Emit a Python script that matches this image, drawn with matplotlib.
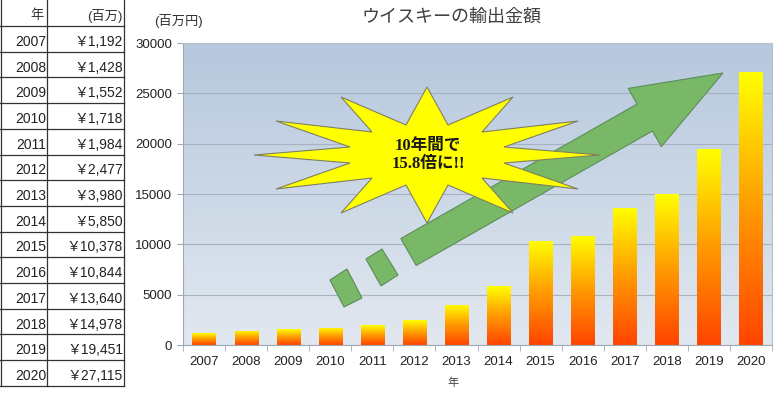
import numpy as np
import matplotlib
matplotlib.use('Agg')
import matplotlib.pyplot as plt
from matplotlib.colors import LinearSegmentedColormap, to_rgb
from matplotlib.patches import Polygon

plt.rcParams['font.family'] = ['Liberation Sans', 'Noto Sans CJK JP']

years = [2007, 2008, 2009, 2010, 2011, 2012, 2013, 2014, 2015, 2016, 2017, 2018, 2019, 2020]
export_values = [1192, 1428, 1552, 1718, 1984, 2477, 3980, 5850, 10378, 10844, 13640, 14978, 19451, 27115]
year_labels = [str(y) for y in years]

title = 'ウイスキーの輸出金額'
y_unit = '(百万円)'
x_label = '年'
table_header = ['年', '(百万)']
callout = '10年間で\n15.8倍に!!'

W, H = 780, 398
fig = plt.figure(figsize=(W / 100, H / 100), dpi=100)

# main chart
ax = fig.add_axes([183 / W, 1 - 345 / H, (772 - 183) / W, (345 - 43) / H])
ax.set_xlim(-0.5, len(years) - 0.5)
ax.set_ylim(0, 30000)

# background gradient
top_c = np.array(to_rgb('#b6c8dd'))
bot_c = np.array(to_rgb('#e2e8f0'))
t = np.linspace(0, 1, 256)[:, None]
bg = (bot_c * (1 - t) + top_c * t)[:, None, :]
ax.imshow(bg, extent=[-0.5, len(years) - 0.5, 0, 30000], origin='lower',
          aspect='auto', zorder=0)

ax.set_yticks(np.arange(0, 30001, 5000))
ax.yaxis.grid(True, color='#a7b2c0', lw=0.8, zorder=1)
ax.set_axisbelow(True)

bar_cmap = LinearSegmentedColormap.from_list('bar', ['#ff4400', '#ff9a00', '#ffff00'])
bars = ax.bar(range(len(years)), export_values, width=0.55, color='none', zorder=2)
grad = np.linspace(0, 1, 256)[:, None]
for b in bars:
    x0, y0 = b.get_x(), b.get_y()
    im = ax.imshow(grad, cmap=bar_cmap, origin='lower', aspect='auto',
                   extent=[x0, x0 + b.get_width(), y0, y0 + b.get_height()], zorder=2)
    im.set_clip_path(b)
ax.set_xlim(-0.5, len(years) - 0.5)
ax.set_ylim(0, 30000)

ax.set_xticks(range(len(years)))
ax.set_xticklabels(year_labels)
ax.set_xticks(np.arange(-0.5, len(years), 1), minor=True)
ax.tick_params(axis='x', which='major', length=0, pad=8, labelsize=9.5, colors='#222222')
ax.tick_params(axis='x', which='minor', length=4, color='#a0a8b4')
ax.tick_params(axis='y', length=4, color='#a0a8b4', labelsize=9.5, labelcolor='#222222', pad=4)
for s in ax.spines.values():
    s.set_color('#b8c0cc')
ax.spines['left'].set_color('#a0a8b4')
ax.spines['bottom'].set_color('#a0a8b4')

# overlay in pixel coordinates for table, labels and decorations
ov = fig.add_axes([0, 0, 1, 1], zorder=5)
ov.set_xlim(0, W)
ov.set_ylim(H, 0)
ov.axis('off')
ov.patch.set_alpha(0)

ov.text(452, 17, title, ha='center', va='center', fontsize=13, color='#404040')
ov.text(178, 21, y_unit, ha='center', va='center', fontsize=9.5, color='#333333')
ov.text(453, 383, x_label, ha='center', va='center', fontsize=8, color='#404040')

# table
row_h = 25.7
top = 26
for i in range(len(years) + 1):
    ov.plot([0, 124], [top + i * row_h] * 2, color='#333333', lw=0.9)
for xv in [0.5, 47, 124]:
    ov.plot([xv, xv], [0, top + len(years) * row_h], color='#333333', lw=0.9)
ov.text(44, 16, table_header[0], ha='right', va='center', fontsize=9.5, color='#333333')
ov.text(123, 16, table_header[1], ha='right', va='center', fontsize=9.5, color='#333333')
for i, (y, v) in enumerate(zip(years, export_values)):
    yc = top + i * row_h + row_h / 2 + 3
    ov.text(46, yc, str(y), ha='right', va='center', fontsize=10, color='#222222')
    ov.text(123, yc, '￥' + f'{v:,}', ha='right', va='center', fontsize=10, color='#222222')

# green arrow
S = np.array([408.5, 252.0])
T = np.array([723.0, 73.0])
u = (T - S) / np.linalg.norm(T - S)
n = np.array([-u[1], u[0]])
hw, hh, hl = 15.5, 33.5, 90
B = T - u * hl
arrow_pts = [S + n * hw, B + n * hw, B + n * hh, T, B - n * hh, B - n * hw, S - n * hw]
arrow_kw = dict(facecolor='#78b866', edgecolor='#5c8c5a', lw=0.8)
ov.add_patch(Polygon(arrow_pts, **arrow_kw))
ov.add_patch(Polygon([(330, 280), (347, 269), (362, 298), (344, 307)], **arrow_kw))
ov.add_patch(Polygon([(366, 259), (382, 249), (398, 275), (381, 286)], **arrow_kw))

# starburst
c = np.array([427.0, 155.0])
outer = [(0, -68), (86, -58), (151, -34), (173, 0), (151, 34), (86, 58),
         (0, 68), (-86, 58), (-151, 34), (-173, 0), (-151, -34), (-86, -58)]
inner = [(21, -30), (55, -23), (77, -8), (77, 8), (55, 23), (21, 30),
         (-21, 30), (-55, 23), (-77, 8), (-77, -8), (-55, -23), (-21, -30)]
star = []
for o, q in zip(outer, inner):
    star.append(c + o)
    star.append(c + q)
ov.add_patch(Polygon(star, facecolor='#ffff00', edgecolor='#7f8060', lw=0.8))
ov.text(428, 155, callout, ha='center', va='center', fontsize=12, fontweight='bold',
        family=['Liberation Serif', 'Noto Sans CJK JP'], color='#1a1a1a', linespacing=1.15)

fig.savefig('out.png', dpi=100)
